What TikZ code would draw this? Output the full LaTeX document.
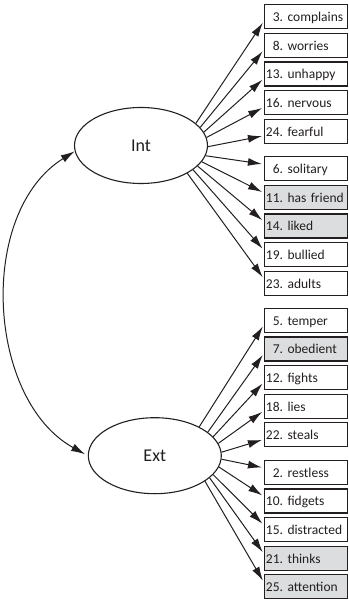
\documentclass[tikz,border=0pt]{standalone}
\usepackage{fontspec}
\setmainfont{Carlito}
\usepackage{tikz}
\usetikzlibrary{shapes.geometric, arrows.meta}
\definecolor{inkblack}{HTML}{231F20}
\definecolor{itemgray}{HTML}{DCDDDE}

\tikzset{
  factor/.style={ellipse, draw=inkblack, line width=1.1pt, fill=white, text=inkblack,
    minimum width=133pt, minimum height=76pt, inner sep=0pt, font=\fontsize{18}{18}\selectfont},
  itembox/.style={draw=inkblack, line width=1.1pt, fill=white, text=inkblack, anchor=west,
    text width=80.4pt, align=left, inner xsep=1.5pt, inner ysep=0pt, minimum height=24pt,
    text height=12pt, text depth=2pt, font=\fontsize{13.5}{13.5}\selectfont\frenchspacing},
  shaded/.style={itembox, fill=itemgray},
  loading/.style={draw=inkblack, line width=1pt, -{Latex[length=14pt,width=8pt]}, shorten >=2pt},
  covar/.style={draw=inkblack, line width=1pt, {Latex[length=14pt,width=8pt]}-{Latex[length=14pt,width=8pt]}, shorten >=3pt}
}

\begin{document}
\begin{tikzpicture}[x=1pt, y=1pt]
  \useasboundingbox (0,0) rectangle (348,-601);

  % Latent factors
  \node[factor] (Int) at (141,-145.5) {Int};
  \node[factor] (Ext) at (154.8,-455.7) {Ext};

  % Internalising items
  \node[itembox] (i3)  at (263.9,-16.7)  {\hphantom{0}3. complains};
  \node[itembox] (i8)  at (263.9,-45.35) {\hphantom{0}8. worries};
  \node[itembox] (i13) at (263.9,-74.0)  {13. unhappy};
  \node[itembox] (i16) at (263.9,-102.65) {16. nervous};
  \node[itembox] (i24) at (263.9,-131.3) {24. fearful};
  \node[itembox] (i6)  at (263.9,-168.7) {\hphantom{0}6. solitary};
  \node[shaded]  (i11) at (263.9,-197.35) {11. has friend};
  \node[shaded]  (i14) at (263.9,-226.0) {14. liked};
  \node[itembox] (i19) at (263.9,-254.65) {19. bullied};
  \node[itembox] (i23) at (263.9,-283.3) {23. adults};

  % Externalising items
  \node[itembox] (e5)  at (263.9,-320.3) {\hphantom{0}5. temper};
  \node[shaded]  (e7)  at (263.9,-348.95) {\hphantom{0}7. obedient};
  \node[itembox] (e12) at (263.9,-377.6) {12. fights};
  \node[itembox] (e18) at (263.9,-406.25) {18. lies};
  \node[itembox] (e22) at (263.9,-434.9) {22. steals};
  \node[itembox] (e2)  at (263.9,-472.3) {\hphantom{0}2. restless};
  \node[itembox] (e10) at (263.9,-500.95) {10. fidgets};
  \node[itembox] (e15) at (263.9,-529.6) {15. distracted};
  \node[shaded]  (e21) at (263.9,-558.25) {21. thinks};
  \node[shaded]  (e25) at (263.9,-586.9) {25. attention};

  % Loadings of Int
  \draw[loading] (Int.22)  -- (i3.186);
  \draw[loading] (Int.17)  -- (i8.186);
  \draw[loading] (Int.12)  -- (i13.186);
  \draw[loading] (Int.7)   -- (i16.186);
  \draw[loading] (Int.-1)  -- (i24.186);
  \draw[loading] (Int.-9)  -- (i6.174);
  \draw[loading] (Int.-15) -- (i11.174);
  \draw[loading] (Int.-20) -- (i14.174);
  \draw[loading] (Int.-25) -- (i19.174);
  \draw[loading] (Int.-31) -- (i23.174);

  % Loadings of Ext
  \draw[loading] (Ext.33)  -- (e5.186);
  \draw[loading] (Ext.24)  -- (e7.186);
  \draw[loading] (Ext.18)  -- (e12.186);
  \draw[loading] (Ext.11)  -- (e18.186);
  \draw[loading] (Ext.3)   -- (e22.186);
  \draw[loading] (Ext.-3)  -- (e2.174);
  \draw[loading] (Ext.-10) -- (e10.174);
  \draw[loading] (Ext.-18) -- (e15.174);
  \draw[loading] (Ext.-22) -- (e21.174);
  \draw[loading] (Ext.-27) -- (e25.174);

  % Factor covariance
  \draw[covar] (Int.185) to[out=212, in=151, looseness=0.97] (Ext.west);
\end{tikzpicture}
\end{document}
